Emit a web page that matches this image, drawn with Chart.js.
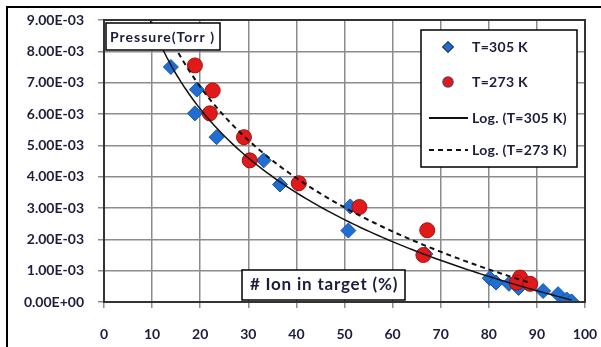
<!DOCTYPE html>
<html>
<head>
<meta charset="utf-8">
<script src="https://cdn.jsdelivr.net/npm/chart.js@4.4.0/dist/chart.umd.min.js"></script>
<style>
  html, body { margin: 0; padding: 0; background: #fff; }
  #wrap { width: 601px; height: 347px; position: relative; }
</style>
</head>
<body>
<div id="wrap"><canvas id="chart" width="601" height="347"></canvas></div>
<script>
// Data (x = % ion in target, y = pressure in Torr)
const xTicks = [0, 10, 20, 30, 40, 50, 60, 70, 80, 90, 100];
const yTicks = [0, 0.001, 0.002, 0.003, 0.004, 0.005, 0.006, 0.007, 0.008, 0.009];

const ion305 = [13.9, 19.3, 18.9, 23.4, 33.2, 36.6, 51.2, 50.8, 66.8, 80.2, 81.5, 84.2, 86.2, 91.3, 94.4, 96.2, 97.2];
const pres305 = [7.5e-3, 6.78e-3, 6.02e-3, 5.26e-3, 4.52e-3, 3.75e-3, 3.05e-3, 2.28e-3, 1.53e-3, 0.76e-3, 0.62e-3, 0.58e-3, 0.45e-3, 0.35e-3, 0.25e-3, 0.08e-3, 0.02e-3];

const ion273 = [18.9, 22.6, 22.0, 29.1, 30.3, 40.5, 53.1, 67.2, 66.4, 86.5, 85.8, 88.6];
const pres273 = [7.55e-3, 6.75e-3, 6.02e-3, 5.26e-3, 4.52e-3, 3.79e-3, 3.03e-3, 2.29e-3, 1.5e-3, 0.78e-3, 0.62e-3, 0.58e-3];

const seriesNames = ["T=305 K", "T=273 K", "Log. (T=305 K)", "Log. (T=273 K)"];
const boxTitle = "Pressure(Torr )";
const axisNote = "# Ion in target (%)";

const FONT = "Lato, 'Open Sans', sans-serif";
const TXT = "#1c1c3c";

const toPoints = (xs, ys) => xs.map((x, i) => ({ x: x, y: ys[i] }));

// Excel style logarithmic trendline: y = a*ln(x) + b, fitted on the data,
// drawn a little backward past the first point (clipped by the plot area)
const logTrend = (xs, ys, back) => {
  const n = xs.length;
  const lx = xs.map(v => Math.log(v));
  const mx = lx.reduce((s, v) => s + v, 0) / n;
  const my = ys.reduce((s, v) => s + v, 0) / n;
  let sxy = 0, sxx = 0;
  lx.forEach((v, i) => { sxy += (v - mx) * (ys[i] - my); sxx += (v - mx) * (v - mx); });
  const a = sxy / sxx;
  const b = my - a * mx;
  const lo = Math.min(...xs) - back, hi = Math.max(...xs);
  const pts = [];
  for (let i = 0; i <= 100; i++) {
    const x = lo + (hi - lo) * i / 100;
    pts.push({ x: x, y: a * Math.log(x) + b });
  }
  return pts;
};

const fmtExp = (v) => {
  const parts = Number(v).toExponential(2).split("e");
  const sign = parts[1][0];
  const digits = parts[1].slice(1).padStart(2, "0");
  return parts[0] + "E" + sign + digits;
};

// frame, plot border, text boxes and legend drawn on top
const decorPlugin = {
  id: "decor",
  afterDraw(chart) {
    const ctx = chart.ctx;
    const a = chart.chartArea;
    ctx.save();
    // outer frame
    ctx.strokeStyle = "#000";
    ctx.lineWidth = 2;
    ctx.beginPath();
    ctx.moveTo(7, 360); ctx.lineTo(7, 7); ctx.lineTo(610, 7);
    ctx.stroke();
    // plot border
    ctx.strokeStyle = "#333";
    ctx.lineWidth = 2;
    ctx.strokeRect(a.left, a.top, a.right - a.left, a.bottom - a.top);

    const box = (x, y, w, h) => {
      ctx.fillStyle = "#fff";
      ctx.fillRect(x, y, w, h);
      ctx.strokeStyle = "#000";
      ctx.lineWidth = 1.5;
      ctx.strokeRect(x, y, w, h);
    };

    // title box
    box(106, 23, 114, 27);
    ctx.fillStyle = TXT;
    ctx.font = "bold 14px " + FONT;
    ctx.textBaseline = "middle";
    ctx.textAlign = "left";
    ctx.letterSpacing = "1px";
    ctx.fillText(boxTitle, 110, 37);

    // x note box
    box(242, 270, 163, 30);
    ctx.fillStyle = TXT;
    ctx.font = "bold 17px " + FONT;
    ctx.letterSpacing = "0.8px";
    ctx.textAlign = "center";
    ctx.fillText(axisNote, 324, 285);

    // legend
    box(421, 30, 156, 137);
    const rows = [47, 82, 118, 150];
    const ds = chart.data.datasets;
    ctx.font = "bold 14px " + FONT;
    ctx.letterSpacing = "0.3px";
    ctx.textAlign = "left";
    rows.forEach((ry, i) => {
      const d = ds[i];
      if (i < 2) {
        Chart.helpers.drawPoint(ctx, {
          pointStyle: d.pointStyle, radius: 5, borderWidth: 1,
          backgroundColor: d.backgroundColor, borderColor: d.borderColor
        }, 448, ry);
        ctx.fillStyle = d.backgroundColor;
        ctx.strokeStyle = d.borderColor;
        ctx.fill();
      } else {
        ctx.strokeStyle = d.borderColor;
        ctx.lineWidth = 2;
        ctx.setLineDash(d.borderDash || []);
        ctx.beginPath();
        ctx.moveTo(429, ry); ctx.lineTo(468, ry);
        ctx.stroke();
        ctx.setLineDash([]);
      }
      ctx.fillStyle = TXT;
      ctx.fillText(seriesNames[i], 472, ry);
    });
    ctx.letterSpacing = "0px";
    ctx.restore();
  }
};

const ctx = document.getElementById("chart").getContext("2d");
new Chart(ctx, {
  type: "scatter",
  data: {
    datasets: [
      {
        label: seriesNames[0],
        data: toPoints(ion305, pres305),
        pointStyle: "rectRot",
        pointRadius: 7.5,
        backgroundColor: "#1f6fd2",
        borderColor: "#1553a8",
        borderWidth: 1,
        order: 2
      },
      {
        label: seriesNames[1],
        data: toPoints(ion273, pres273),
        pointStyle: "circle",
        pointRadius: 7.5,
        backgroundColor: "#e01a1a",
        borderColor: "#a80d0d",
        borderWidth: 1,
        order: 1
      },
      {
        label: seriesNames[2],
        data: logTrend(ion305, pres305, 6),
        showLine: true,
        pointRadius: 0,
        borderColor: "#111",
        borderWidth: 1.5,
        order: 0
      },
      {
        label: seriesNames[3],
        data: logTrend(ion273, pres273, 6),
        showLine: true,
        pointRadius: 0,
        borderColor: "#111",
        borderWidth: 2,
        borderDash: [5, 4],
        order: 0
      }
    ]
  },
  options: {
    responsive: false,
    animation: false,
    layout: { padding: { top: 20, right: 16, left: 0, bottom: 0 } },
    plugins: {
      legend: { display: false },
      tooltip: { enabled: false }
    },
    scales: {
      x: {
        type: "linear",
        min: 0,
        max: 100,
        afterBuildTicks: (s) => { s.ticks = xTicks.map(v => ({ value: v })); },
        afterFit: (s) => { s.height = 45; s.paddingLeft = 0; s.paddingRight = 0; },
        ticks: {
          color: TXT,
          font: { family: FONT, size: 14, weight: "bold" },
          padding: 18
        },
        grid: { color: "#8c8c8c", lineWidth: 1.5, tickLength: 6 },
        border: { display: false }
      },
      y: {
        type: "linear",
        min: 0,
        max: 0.009,
        afterBuildTicks: (s) => { s.ticks = yTicks.map(v => ({ value: v })); },
        afterFit: (s) => { s.width = 104; s.paddingTop = 0; s.paddingBottom = 0; },
        ticks: {
          color: TXT,
          font: { family: FONT, size: 14, weight: "bold" },
          padding: 14,
          callback: (v) => fmtExp(v)
        },
        grid: { color: "#8c8c8c", lineWidth: 1.5, tickLength: 6 },
        border: { display: false }
      }
    }
  },
  plugins: [decorPlugin]
});
</script>
</body>
</html>
